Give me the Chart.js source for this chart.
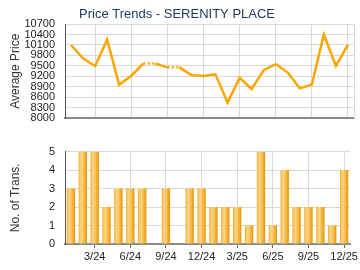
<!DOCTYPE html>
<html>
<head>
<meta charset="utf-8">
<script src="https://cdn.jsdelivr.net/npm/chart.js@4/dist/chart.umd.min.js"></script>
<style>
  html, body { margin: 0; padding: 0; background: #fff; }
  #wrap { position: relative; width: 360px; height: 270px; }
  #price-box { position: absolute; left: 0; top: 0; width: 360px; height: 135px; }
  #trans-box { position: absolute; left: 0; top: 135px; width: 360px; height: 135px; }
</style>
</head>
<body>
<div id="wrap">
  <div id="price-box"><canvas id="price-chart"></canvas></div>
  <div id="trans-box"><canvas id="trans-chart"></canvas></div>
</div>
<script>
// Dados
const months = ['1/24','2/24','3/24','4/24','5/24','6/24','7/24','8/24','9/24','10/24','11/24','12/24',
                '1/25','2/25','3/25','4/25','5/25','6/25','7/25','8/25','9/25','10/25','11/25','12/25'];
const avgPrice = [10100, 9720, 9500, 10250, 8960, 9220, 9570, 9570, 9460, 9460, 9240, 9210,
                  9260, 8450, 9160, 8840, 9380, 9550, 9310, 8860, 8970, 10400, 9500, 10110];
const transCount = [3, 5, 5, 2, 3, 3, 3, 0, 3, 0, 3, 3,
                    2, 2, 2, 1, 5, 1, 4, 2, 2, 2, 1, 4];
const priceTicks = { min: 8000, max: 10700, step: 300 };
const transTicks = { min: 0, max: 5, step: 1 };

const FONT = '"Liberation Sans", Arial, sans-serif';
const GRID = '#d9d9d9';
const isQuarter = i => (i + 1) % 3 === 0;

Chart.defaults.font.family = FONT;
Chart.defaults.animation = false;

// borda direita do gráfico de preço
const rightEdge = {
    id: 'rightEdge',
    afterDraw(chart) {
        const { ctx, chartArea } = chart;
        ctx.save();
        ctx.strokeStyle = GRID;
        ctx.lineWidth = 1;
        ctx.beginPath();
        ctx.moveTo(chartArea.right + 0.5, chartArea.top);
        ctx.lineTo(chartArea.right + 0.5, chartArea.bottom);
        ctx.stroke();
        ctx.restore();
    }
};

// Gráfico de preço médio
new Chart(document.getElementById('price-chart'), {
    type: 'line',
    data: {
        labels: months,
        datasets: [{
            data: avgPrice,
            borderColor: '#FFA500',
            borderWidth: 2.5,
            pointRadius: 0,
            tension: 0,
            segment: {
                borderDash: ctx => transCount[ctx.p1DataIndex] === 0 ? [2, 2.5] : undefined
            }
        }]
    },
    options: {
        responsive: true,
        maintainAspectRatio: false,
        layout: { padding: { left: 0, right: 6, top: 0, bottom: 0 } },
        plugins: {
            legend: { display: false },
            tooltip: { enabled: false },
            title: {
                display: true,
                text: 'Price Trends - SERENITY PLACE',
                color: '#1f3b63',
                font: { size: 13, weight: 'normal', family: FONT },
                padding: { top: 7, bottom: 1.4 }
            }
        },
        scales: {
            x: {
                offset: true,
                grid: {
                    offset: false,
                    color: c => isQuarter(c.index) ? GRID : 'rgba(0,0,0,0)',
                    drawTicks: false
                },
                border: { color: '#8a8a8a', width: 2 },
                ticks: { display: false },
                afterFit: s => { s.height = 5.5; }
            },
            y: {
                min: priceTicks.min,
                max: priceTicks.max,
                grid: { color: GRID, drawTicks: false },
                border: { color: '#555', width: 1 },
                ticks: {
                    stepSize: priceTicks.step,
                    autoSkip: false,
                    padding: 10,
                    color: '#222',
                    font: { size: 11 },
                    callback: v => String(v)
                },
                title: {
                    display: true,
                    text: 'Average Price',
                    color: '#333',
                    font: { size: 12 },
                    padding: { top: 8, bottom: 0 }
                },
                afterFit: s => { s.width = 65; }
            }
        }
    },
    plugins: [rightEdge]
});

// Gráfico de número de transações
new Chart(document.getElementById('trans-chart'), {
    type: 'bar',
    data: {
        labels: months,
        datasets: [{
            data: transCount,
            categoryPercentage: 1,
            barPercentage: 0.7,
            borderWidth: 0,
            backgroundColor: ctx => {
                const chart = ctx.chart;
                if (!chart.chartArea) return '#F5B940';
                const cx = chart.scales.x.getPixelForValue(ctx.dataIndex);
                const g = chart.ctx.createLinearGradient(cx - 4.2, 0, cx + 4.2, 0);
                g.addColorStop(0, '#E8A21C');
                g.addColorStop(0.12, '#F8C45A');
                g.addColorStop(0.35, '#FDD587');
                g.addColorStop(0.7, '#F5B53E');
                g.addColorStop(1, '#E39400');
                return g;
            }
        }]
    },
    options: {
        responsive: true,
        maintainAspectRatio: false,
        layout: { padding: { left: 0, right: 6, top: 12.3, bottom: 0 } },
        plugins: {
            legend: { display: false },
            tooltip: { enabled: false }
        },
        scales: {
            x: {
                offset: true,
                grid: {
                    offset: false,
                    color: c => isQuarter(c.index) ? GRID : 'rgba(0,0,0,0)',
                    tickColor: c => isQuarter(c.index) ? '#666' : 'rgba(0,0,0,0)',
                    tickLength: 4
                },
                border: { color: '#8a8a8a', width: 2 },
                ticks: {
                    autoSkip: false,
                    maxRotation: 0,
                    padding: 2,
                    color: '#222',
                    font: { size: 11 },
                    callback: (v, i) => isQuarter(i) ? months[i] : ''
                },
                afterFit: s => { s.height = 26; }
            },
            y: {
                min: transTicks.min,
                max: transTicks.max,
                grid: { color: GRID, drawTicks: false },
                border: { color: '#555', width: 1 },
                ticks: {
                    stepSize: transTicks.step,
                    autoSkip: false,
                    padding: 10,
                    color: '#222',
                    font: { size: 11 }
                },
                title: {
                    display: true,
                    text: 'No. of Trans.',
                    color: '#333',
                    font: { size: 12 },
                    padding: { top: 8, bottom: 0 }
                },
                afterFit: s => { s.width = 65; }
            }
        }
    }
});
</script>
</body>
</html>
